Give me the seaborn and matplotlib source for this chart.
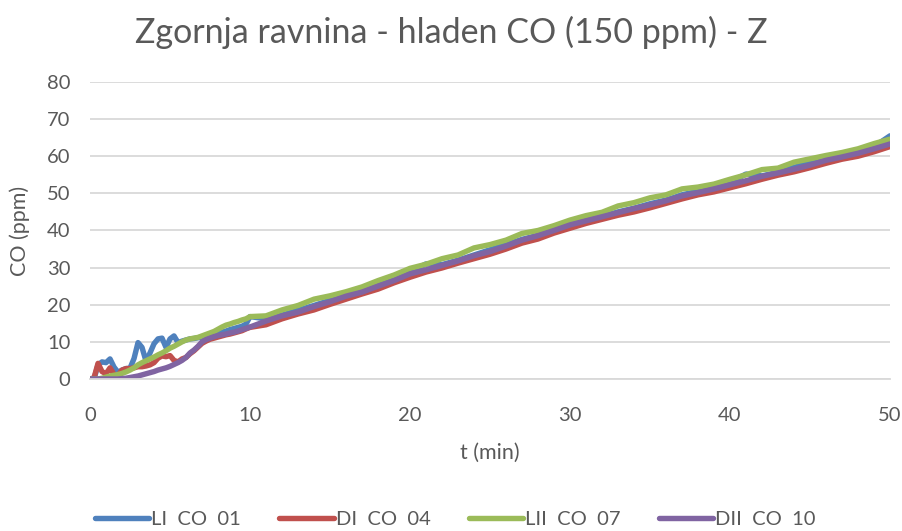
import numpy as np
import pandas as pd
import matplotlib
matplotlib.use("Agg")
import matplotlib.pyplot as plt
import seaborn as sns

# time axis (min)
t_early = [0, 0.25, 0.5, 0.75, 1.0, 1.25, 1.5, 1.75, 2.0, 2.25, 2.5, 2.75, 3.0, 3.25, 3.5, 3.75,
           4.0, 4.25, 4.5, 4.75, 5.0, 5.25, 5.5, 5.75, 6.0, 6.25, 6.5, 6.75, 7.0, 7.25, 7.5, 7.75,
           8.0, 8.25, 8.5, 8.75, 9.0, 9.25, 9.5, 9.75, 10.0]
t_late = [11, 12, 13, 14, 15, 16, 17, 18, 19, 20, 21, 22, 23, 24, 25, 26, 27, 28, 29, 30,
          31, 32, 33, 34, 35, 36, 37, 38, 39, 40, 41, 42, 43, 44, 45, 46, 47, 48, 49, 50]
time_min = t_early + t_late

series_names = ["LI  CO  01", "DI  CO  04", "LII  CO  07", "DII  CO  10"]

li_co_01 = [0, 0, 3.8, 4.6, 4.4, 5.4, 3.2, 1.8, 2.4, 2.8, 2.9, 5.5, 9.8, 8.5, 4.8, 7.0,
            9.5, 10.8, 11.0, 8.5, 10.8, 11.6, 9.8, 10.2, 10.5, 10.8, 10.9, 11.1, 11.3, 11.4, 11.6, 11.9,
            12.3, 12.6, 12.9, 13.3, 13.6, 13.9, 14.2, 14.8, 16.8,
            16.2, 17.2, 18.5, 19.8, 21.2, 22.5, 24.0, 25.4, 27.0, 28.8,
            31.0, 30.8, 32.0, 33.4, 34.8, 36.2, 37.6, 38.7, 40.5, 41.6,
            42.8, 43.8, 45.0, 46.0, 47.2, 48.2, 49.6, 50.6, 51.5, 53.0,
            55.2, 54.7, 55.7, 57.0, 58.2, 59.0, 60.0, 61.0, 62.6, 65.5]

di_co_04 = [0, 0.3, 4.2, 2.0, 1.4, 3.0, 1.2, 1.0, 2.4, 2.8, 2.8, 3.0, 3.3, 3.3, 3.5, 3.8,
            4.4, 5.6, 6.2, 6.0, 6.3, 5.0, 4.6, 5.4, 5.8, 6.8, 7.6, 8.6, 9.6, 10.2, 10.7, 11.0,
            11.3, 11.6, 11.9, 12.1, 12.4, 12.7, 13.0, 13.5, 13.9,
            14.6, 16.2, 17.5, 18.6, 20.1, 21.5, 22.9, 24.2, 25.9, 27.4,
            28.8, 29.9, 31.2, 32.4, 33.6, 35.0, 36.6, 37.7, 39.3, 40.6,
            41.9, 43.0, 44.1, 45.0, 46.1, 47.3, 48.5, 49.6, 50.4, 51.5,
            52.6, 53.8, 54.9, 55.8, 56.9, 58.1, 59.2, 60.0, 61.2, 62.6]

lii_co_07 = [0, 0, 0, 0.2, 0.5, 0.8, 1.0, 1.2, 1.5, 1.9, 2.4, 3.0, 3.8, 4.4, 4.9, 5.4,
             5.9, 6.5, 7.0, 7.6, 8.3, 8.8, 9.4, 10.0, 10.5, 10.8, 11.0, 11.2, 11.6, 12.0, 12.4, 12.8,
             13.4, 14.0, 14.5, 14.8, 15.2, 15.5, 15.9, 16.2, 16.8,
             17.0, 18.6, 19.8, 21.5, 22.4, 23.5, 24.8, 26.5, 28.0, 29.8,
             30.9, 32.4, 33.4, 35.3, 36.2, 37.4, 39.2, 40.0, 41.3, 42.8,
             44.0, 44.9, 46.6, 47.5, 48.8, 49.6, 51.2, 51.7, 52.5, 53.8,
             55.0, 56.4, 56.8, 58.4, 59.3, 60.2, 61.0, 62.0, 63.4, 64.6]

dii_co_10 = [0, 0, 0, 0, 0, 0, 0, 0, 0.1, 0.2, 0.4, 0.6, 0.8, 1.1, 1.4, 1.7,
             2.0, 2.4, 2.7, 3.0, 3.4, 3.9, 4.4, 5.0, 5.8, 7.0, 7.8, 8.8, 10.0, 10.6, 11.0, 11.4,
             11.7, 11.9, 12.1, 12.4, 12.6, 12.9, 13.3, 13.6, 14.0,
             15.6, 17.0, 18.0, 19.5, 20.8, 22.3, 23.4, 25.0, 26.5, 28.3,
             29.4, 30.6, 31.8, 33.2, 34.3, 35.8, 37.4, 38.6, 40.0, 41.5,
             42.6, 43.7, 44.8, 45.9, 46.9, 48.0, 49.3, 50.2, 51.2, 52.3,
             53.4, 54.6, 55.5, 56.5, 57.6, 58.9, 59.8, 60.8, 62.0, 63.3]

colors = ["#4F81BD", "#C0504D", "#9BBB59", "#8064A2"]

frames = []
for name, vals in zip(series_names, [li_co_01, di_co_04, lii_co_07, dii_co_10]):
    frames.append(pd.DataFrame({"t": time_min, "CO": vals, "serija": name}))
df = pd.concat(frames, ignore_index=True)

sns.set_theme(style="white")
plt.rcParams["font.family"] = ["Lato", "DejaVu Sans"]

fig = plt.figure(figsize=(9.02, 5.31), dpi=100)
ax = fig.add_axes([0.0998, 0.2863, 0.8869, 0.5593])

sns.lineplot(data=df, x="t", y="CO", hue="serija", hue_order=series_names,
             palette=colors, linewidth=3.9, ax=ax, legend=False, sort=False,
             solid_capstyle="round", solid_joinstyle="round")

ax.set_xlim(0, 50)
ax.set_ylim(0, 80)
ax.set_xticks([0, 10, 20, 30, 40, 50])
ax.set_yticks([0, 10, 20, 30, 40, 50, 60, 70, 80])
ax.yaxis.grid(True, color="#D9D9D9", linewidth=1.3)
ax.xaxis.grid(False)
ax.set_axisbelow(True)
for s in ["top", "right", "left"]:
    ax.spines[s].set_visible(False)
ax.spines["bottom"].set_color("#D9D9D9")
ax.spines["bottom"].set_linewidth(1.3)
ax.tick_params(axis="both", length=0, labelsize=14.5, colors="#595959")
ax.tick_params(axis="x", pad=20)
ax.tick_params(axis="y", pad=14)

ax.set_xlabel("t (min)", fontsize=15.5, color="#595959", labelpad=14)
ax.set_ylabel("CO (ppm)", fontsize=15.5, color="#595959", labelpad=12)

fig.text(0.5, 0.938, "Zgornja ravnina - hladen CO (150 ppm) - Z", ha="center", va="center",
         fontsize=24.5, color="#595959")

handles = ax.get_lines()[:4]
leg = fig.legend(handles, series_names, loc="center", bbox_to_anchor=(0.505, 0.022), ncol=4,
                 frameon=False, fontsize=14.5, handlelength=2.7, handletextpad=0.1,
                 columnspacing=1.9)
for txt in leg.get_texts():
    txt.set_color("#595959")

fig.savefig("out.png", dpi=100)
